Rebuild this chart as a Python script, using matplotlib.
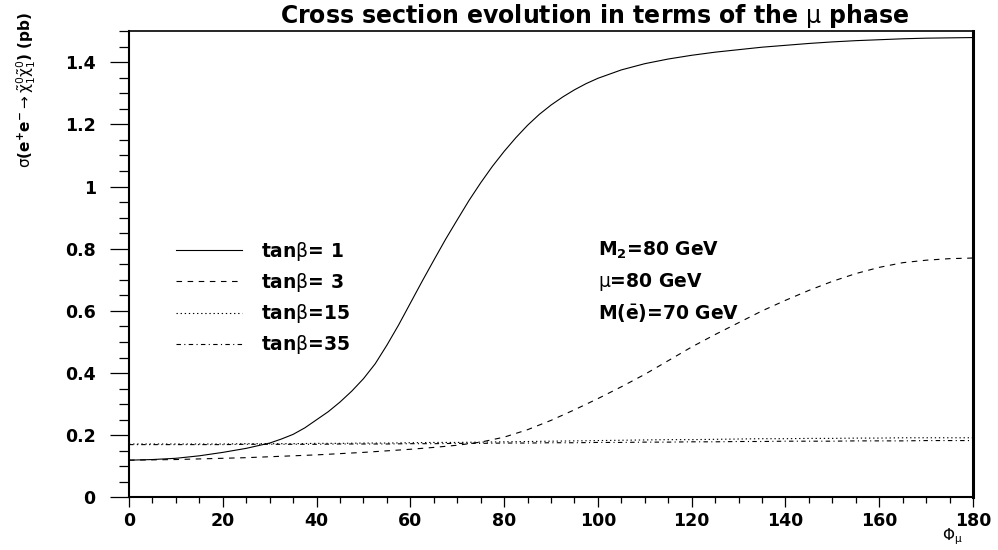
import numpy as np
import matplotlib
matplotlib.use('Agg')
import matplotlib.pyplot as plt
from matplotlib.ticker import MultipleLocator, FixedLocator, FixedFormatter

plt.rcParams['font.family'] = ['DejaVu Sans']
plt.rcParams['mathtext.fontset'] = 'custom'
plt.rcParams['mathtext.rm'] = 'DejaVu Sans'
plt.rcParams['mathtext.it'] = 'DejaVu Sans'
plt.rcParams['mathtext.bf'] = 'DejaVu Sans:bold'

# phase of mu (degrees) for tan(beta)=1, finer in the steep part
phi_1 = [0, 5, 10, 15, 20, 25, 30, 32.5, 35, 37.5, 40, 42.5, 45, 47.5, 50, 52.5,
         55, 57.5, 60, 62.5, 65, 67.5, 70, 72.5, 75, 77.5, 80, 82.5, 85, 87.5,
         90, 92.5, 95, 97.5, 100, 105, 110, 115, 120, 125, 130, 135, 140, 145,
         150, 155, 160, 165, 170, 175, 180]
sig_tb1 = [0.120, 0.122, 0.126, 0.134, 0.145, 0.158, 0.175, 0.188, 0.203, 0.224,
           0.250, 0.276, 0.307, 0.342, 0.382, 0.430, 0.490, 0.555, 0.625, 0.695,
           0.763, 0.830, 0.893, 0.955, 1.012, 1.065, 1.113, 1.157, 1.197, 1.232,
           1.262, 1.288, 1.311, 1.331, 1.348, 1.375, 1.395, 1.410, 1.422, 1.432,
           1.440, 1.448, 1.454, 1.460, 1.465, 1.469, 1.472, 1.475, 1.477, 1.478,
           1.479]

# phase of mu (degrees) for the other tan(beta) values
phi = [0, 5, 10, 15, 20, 25, 30, 35, 40, 45, 50, 55, 60, 65, 70, 75, 80, 85, 90,
       95, 100, 105, 110, 115, 120, 125, 130, 135, 140, 145, 150, 155, 160, 165,
       170, 175, 180]
sig_tb3 = [0.120, 0.121, 0.122, 0.124, 0.126, 0.128, 0.131, 0.134, 0.137, 0.141,
           0.145, 0.150, 0.155, 0.161, 0.168, 0.178, 0.194, 0.218, 0.248, 0.282,
           0.318, 0.356, 0.396, 0.440, 0.484, 0.524, 0.562, 0.600, 0.634, 0.666,
           0.695, 0.720, 0.740, 0.755, 0.763, 0.768, 0.770]
sig_tb15 = [0.172, 0.172, 0.172, 0.172, 0.172, 0.173, 0.173, 0.173, 0.174, 0.174,
            0.175, 0.175, 0.176, 0.177, 0.177, 0.178, 0.179, 0.180, 0.181, 0.182,
            0.183, 0.184, 0.185, 0.186, 0.186, 0.187, 0.188, 0.189, 0.189, 0.190,
            0.190, 0.191, 0.191, 0.192, 0.192, 0.192, 0.192]
sig_tb35 = [0.170, 0.170, 0.170, 0.170, 0.170, 0.171, 0.171, 0.171, 0.171, 0.172,
            0.172, 0.172, 0.173, 0.173, 0.174, 0.174, 0.175, 0.175, 0.176, 0.176,
            0.177, 0.177, 0.178, 0.178, 0.179, 0.179, 0.180, 0.180, 0.181, 0.181,
            0.181, 0.182, 0.182, 0.182, 0.183, 0.183, 0.183]

labels = ['tan$\\beta$= 1', 'tan$\\beta$= 3', 'tan$\\beta$=15', 'tan$\\beta$=35']
yticks = [0, 0.2, 0.4, 0.6, 0.8, 1.0, 1.2, 1.4]
ytick_labels = ['0', '0.2', '0.4', '0.6', '0.8', '1', '1.2', '1.4']

fig = plt.figure(figsize=(9.98, 5.5), dpi=100)
ax = fig.add_axes([0.1293, 0.0955, 0.8457, 0.8481])

lw = 0.8
ax.plot(phi_1, sig_tb1, color='black', lw=lw, ls='-', label=labels[0])
ax.plot(phi, sig_tb3, color='black', lw=lw, ls=(0, (5, 5)), label=labels[1])
ax.plot(phi, sig_tb15, color='black', lw=lw, ls=(0, (1.2, 2.5)), label=labels[2])
ax.plot(phi, sig_tb35, color='black', lw=lw, ls=(0, (4, 3, 1, 3)), label=labels[3])

ax.set_xlim(0, 180)
ax.set_ylim(0, 1.5)

ax.xaxis.set_major_locator(MultipleLocator(20))
ax.xaxis.set_minor_locator(MultipleLocator(5))
ax.yaxis.set_major_locator(FixedLocator(yticks))
ax.yaxis.set_major_formatter(FixedFormatter(ytick_labels))
ax.yaxis.set_minor_locator(MultipleLocator(0.05))

ax.tick_params(axis='y', which='major', direction='out', length=14, width=0.9, pad=10)
ax.tick_params(axis='y', which='minor', direction='out', length=7, width=0.9)
ax.tick_params(axis='x', which='major', direction='out', length=7.5, width=0.9, pad=3)
ax.tick_params(axis='x', which='minor', direction='out', length=4.5, width=0.9)
for lab in ax.get_xticklabels() + ax.get_yticklabels():
    lab.set_fontweight('bold')
    lab.set_fontsize(12.5)

for side in ['left', 'bottom']:
    ax.spines[side].set_linewidth(1.5)
ax.spines['right'].set_linewidth(2.2)
ax.spines['top'].set_linewidth(1.2)

fig.text(595 / 998, 1 - 16 / 550, 'Cross section evolution in terms of the $\\mu$ phase',
         ha='center', va='center', fontsize=17, fontweight='bold')

ax.set_ylabel('$\\sigma$(e$^{\\mathbf{+}}$e$^{\\mathbf{-}}$$\\rightarrow$'
              '$\\tilde{\\chi}^{0}_{1}\\tilde{\\chi}^{0}_{1}$) (pb)',
              fontsize=11, fontweight='bold')
ax.yaxis.set_label_coords(-0.108, 0.8735)

ax.text(0.975, -0.084, '$\\Phi_{\\mu}$', transform=ax.transAxes,
        ha='center', va='center', fontsize=11)

ax.legend(loc='upper left', frameon=False, prop={'weight': 'bold', 'size': 13.5},
          handlelength=3.5, handletextpad=1.05, labelspacing=0.43,
          borderpad=0, borderaxespad=0,
          bbox_to_anchor=(176 / 998, 1 - 240 / 550), bbox_transform=fig.transFigure)

notes = ['M$_{\\mathbf{2}}$=80 GeV', '$\\mu$=80 GeV', 'M($\\bar{\\mathbf{e}}$)=70 GeV']
note_y = [0.5305, 0.462, 0.3955]
for txt, yy in zip(notes, note_y):
    ax.text(0.5557, yy, txt, transform=ax.transAxes, ha='left', va='center',
            fontsize=13.5, fontweight='bold')

fig.savefig('out.png', dpi=100)
